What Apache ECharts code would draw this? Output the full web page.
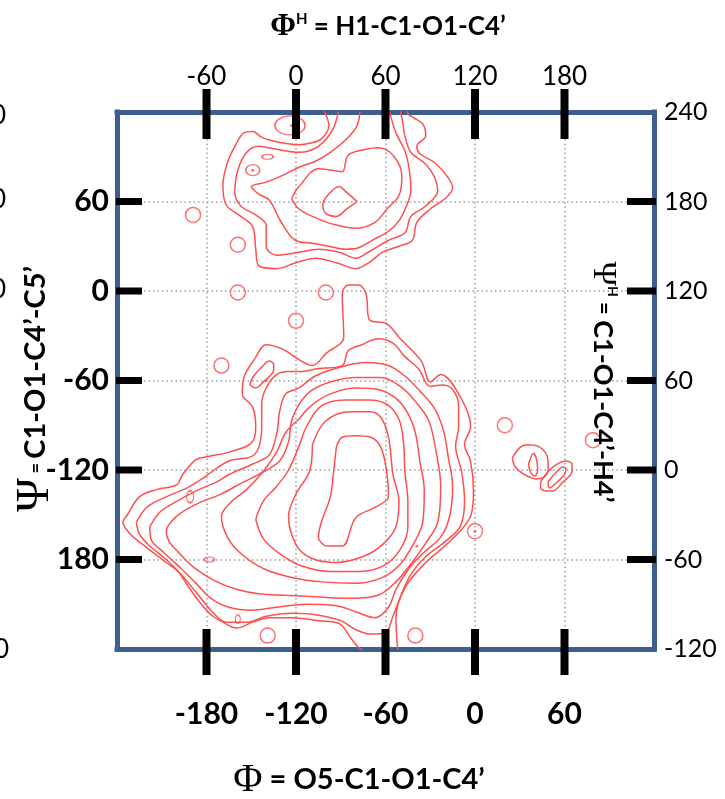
<!DOCTYPE html>
<html><head><meta charset="utf-8">
<script src="https://cdn.jsdelivr.net/npm/echarts@6/dist/echarts.min.js"></script>
<style>html,body{margin:0;padding:0;background:#fff}#c{width:725px;height:799px}</style>
</head><body><div id="c"></div>
<script>
// ---- axis ticks / labels ----
const phiTicks = [-180, -120, -60, 0, 60];
const phiLabels = ['-180', '-120', '-60', '0', '60'];
const phiHLabels = ['-60', '0', '60', '120', '180'];
const psiTicks = [60, 0, -60, -120, -180];
const psiLabels = ['60', '0', '-60', '-120', '180'];
const psiHValues = [120, 60, 0, -60, -120, -180, -240];
const psiHLabels = ['240', '180', '120', '60', '0', '-60', '-120'];

// ---- contour lines (Phi, Psi in degrees) ----
const contourU1 = [[-103,124],[-98,111],[-103,102],[-111,99],[-118,98],[-133,100],[-143,103],[-149,107],[-155,106],[-161,97],[-166,86],[-169,71],[-167,58],[-157,50],[-149,43],[-147,28],[-145,17],[-133,15],[-120,19],[-107,22],[-93,19],[-80,15],[-71,19],[-62,26],[-51,30],[-42,34],[-39,46],[-30,55],[-20,62],[-15,69],[-18,76],[-27,86],[-37,92],[-39,97],[-33,104],[-35,112],[-41,116],[-45,119],[-46,124]];
const contourU2 = [[-91,124],[-95,109],[-105,97],[-118,93],[-133,95],[-145,97],[-153,93],[-159,81],[-161,66],[-157,57],[-147,51],[-140,44],[-140,30],[-133,24],[-118,26],[-105,28],[-91,26],[-80,22],[-70,27],[-58,34],[-47,39],[-43,50],[-33,57],[-25,67],[-27,76],[-33,85],[-43,93],[-47,104],[-49,116],[-51,124]];
const contourU3 = [[-77,124],[-79,111],[-87,101],[-97,93],[-107,87],[-118,83],[-130,77],[-140,73],[-150,70],[-145,65],[-138,61],[-131,48],[-123,36],[-118,33],[-109,32],[-98,30],[-87,28],[-78,29],[-69,34],[-58,40],[-51,47],[-46,57],[-43,67],[-44,81],[-47,94],[-53,106],[-57,119],[-58,124]];
const contourU4 = [[-123,62],[-118,70],[-105,82],[-96,81],[-89,80],[-85,91],[-73,95],[-65,96],[-55,91],[-49,77],[-51,64],[-59,55],[-67,46],[-80,42],[-96,45],[-109,50],[-118,55],[-123,62]];
const contourU5 = [[-79,60],[-87,67],[-91,70],[-98,65],[-102,58],[-100,52],[-93,50],[-86,55],[-79,60]];

const contourM1 = [[-51,-249],[-53,-219],[-47,-199],[-33,-182],[-17,-168],[-3,-151],[-1,-134],[-3,-114],[-7,-103],[-3,-91],[-11,-69],[-23,-56],[-30,-61],[-36,-47],[-51,-31],[-59,-22],[-71,-19],[-73,-2],[-78,4],[-85,4],[-89,-2],[-88,-31],[-100,-42],[-109,-50],[-118,-46],[-129,-39],[-140,-36],[-148,-46],[-155,-58],[-156,-69],[-149,-78],[-147,-91],[-150,-102],[-165,-108],[-179,-111],[-187,-113],[-196,-123],[-200,-130],[-213,-133],[-225,-138],[-233,-150],[-236,-155],[-231,-163],[-220,-172],[-207,-182],[-199,-188],[-193,-197],[-185,-208],[-177,-217],[-169,-222],[-160,-226],[-149,-222],[-138,-219],[-123,-219],[-105,-221],[-91,-223],[-83,-233],[-78,-239],[-73,-242],[-69,-249]];
const contourM2 = [[-227,-155],[-220,-145],[-207,-138],[-193,-132],[-183,-126],[-179,-123],[-165,-114],[-150,-111],[-145,-105],[-143,-91],[-143,-76],[-140,-65],[-133,-56],[-125,-54],[-118,-54],[-105,-52],[-89,-50],[-85,-40],[-76,-36],[-65,-32],[-55,-35],[-47,-44],[-38,-52],[-30,-64],[-22,-63],[-15,-66],[-11,-77],[-11,-91],[-13,-104],[-9,-121],[-7,-141],[-10,-158],[-20,-168],[-33,-178],[-43,-190],[-50,-205],[-55,-218],[-60,-229],[-70,-230],[-80,-227],[-90,-221],[-107,-217],[-123,-216],[-140,-218],[-153,-222],[-167,-222],[-177,-214],[-187,-202],[-197,-190],[-207,-180],[-218,-171],[-225,-163],[-227,-155]];
const contourM3 = [[-218,-158],[-211,-148],[-200,-141],[-187,-134],[-173,-128],[-165,-123],[-149,-116],[-138,-110],[-133,-96],[-131,-81],[-127,-69],[-118,-65],[-107,-57],[-90,-51],[-73,-48],[-58,-50],[-47,-57],[-37,-67],[-27,-79],[-21,-94],[-18,-111],[-15,-131],[-17,-151],[-23,-165],[-35,-176],[-45,-187],[-53,-200],[-58,-212],[-67,-219],[-80,-215],[-93,-211],[-113,-210],[-133,-212],[-150,-214],[-165,-212],[-177,-206],[-187,-196],[-197,-186],[-209,-175],[-217,-167],[-218,-158]];
const contourM4 = [[-118,-76],[-110,-67],[-97,-61],[-80,-58],[-63,-58],[-50,-64],[-40,-74],[-31,-87],[-26,-108],[-23,-131],[-25,-155],[-33,-169],[-43,-183],[-53,-195],[-65,-204],[-83,-206],[-107,-205],[-127,-204],[-145,-203],[-160,-200],[-175,-194],[-189,-185],[-198,-176],[-205,-168],[-207,-161],[-200,-151],[-187,-143],[-170,-136],[-157,-129],[-145,-123],[-131,-114],[-125,-101],[-123,-87],[-118,-76]];
const contourM5 = [[-118,-86],[-110,-77],[-97,-69],[-80,-65],[-65,-66],[-53,-72],[-45,-82],[-40,-95],[-37,-114],[-34,-134],[-35,-155],[-41,-169],[-50,-183],[-62,-192],[-80,-196],[-103,-195],[-123,-192],[-142,-186],[-157,-176],[-166,-165],[-170,-151],[-163,-141],[-153,-133],[-142,-121],[-133,-108],[-127,-95],[-118,-86]];
const contourM6 = [[-147,-153],[-142,-141],[-133,-131],[-125,-120],[-118,-104],[-113,-91],[-103,-77],[-87,-73],[-71,-73],[-59,-76],[-51,-86],[-48,-101],[-47,-121],[-45,-141],[-45,-158],[-50,-173],[-61,-184],[-77,-188],[-97,-188],[-117,-184],[-131,-176],[-142,-166],[-147,-153]];
const contourM7 = [[-109,-103],[-100,-87],[-83,-81],[-70,-81],[-63,-85],[-58,-98],[-55,-123],[-51,-141],[-53,-158],[-62,-170],[-75,-178],[-93,-182],[-110,-179],[-120,-170],[-125,-151],[-120,-136],[-111,-121],[-109,-103]];
const contourM8 = [[-93,-105],[-89,-98],[-80,-97],[-70,-98],[-63,-105],[-59,-123],[-58,-138],[-67,-145],[-80,-152],[-89,-171],[-99,-171],[-105,-165],[-103,-155],[-97,-138],[-95,-123],[-93,-105]];
const contourS1 = [[-151,-63],[-149,-58],[-142,-50],[-138,-47],[-135,-49],[-135,-53],[-142,-61],[-147,-65],[-151,-63]];
const contourA1 = [[25,-112],[30,-105],[35,-103],[42,-104],[47,-108],[49,-114],[49,-120],[46,-125],[41,-126],[33,-123],[27,-118],[25,-112]];
const contourA2 = [[37,-113],[39,-109],[41,-112],[42,-120],[40,-124],[37,-121],[36,-116],[37,-113]];
const contourB1 = [[44,-128],[49,-121],[55,-116],[61,-114],[65,-116],[65,-121],[59,-128],[52,-134],[47,-134],[44,-132],[44,-128]];
const contourB2 = [[49,-128],[54,-122],[59,-118],[61,-119],[60,-123],[54,-129],[50,-132],[49,-128]];

// small closed loops (centres)
const circles = [[-189,51],[-159,31],[-159,-1],[-100,-1],[-120,-20],[-170,-50],[20,-90],[79,-100],[0,-161],[-40,-231],[-139,-231]];
const dots = [[-123,111],[-149,81],[-140,-60],[0,-161],[-39,-171]];
const loopTop = [[-124,111]];
const loopA = [[-149,81]];
const loopB = [[-139,90]];
const loopC = [[-191,-138]];
const loopD = [[-178,-180]];
const loopE = [[-159,-220]];

const RED = '#ff4f4f';
const BLUE = '#3d5f8f';
const contours = [contourU1,contourU2,contourU3,contourU4,contourU5,contourM1,contourM2,contourM3,contourM4,contourM5,contourM6,contourM7,contourM8,contourS1,contourA1,contourA2,contourB1,contourB2];

function lookup(vals, labels, v){ const i = vals.indexOf(v); return i < 0 ? '' : labels[i]; }

const FONT = 'Lato';
const series = contours.map(c => ({
  type: 'line', data: c, showSymbol: false, smooth: 0.35, silent: true,
  lineStyle: { color: RED, width: 1.5 }, z: 3
}));
function loopSeries(data, size){
  return { type: 'scatter', data, symbol: 'circle', symbolSize: size, silent: true, z: 3,
    itemStyle: { color: 'rgba(0,0,0,0)', borderColor: RED, borderWidth: 1.5 } };
}
series.push(loopSeries(circles, 15));
series.push(loopSeries(loopTop, [30, 19]));
series.push(loopSeries(loopA, [14, 11]));
series.push(loopSeries(loopB, [11, 5]));
series.push(loopSeries(loopC, [7, 12]));
series.push(loopSeries(loopD, [10, 5]));
series.push(loopSeries(loopE, [5, 8]));
series.push({ type: 'scatter', data: dots, symbol: 'circle', symbolSize: 3, silent: true, z: 3,
  itemStyle: { color: RED } });

// thick tick bars
const tickData = [];
phiTicks.forEach(v => { tickData.push([v, 0, 0]); tickData.push([v, 0, 1]); });
psiTicks.forEach(v => { tickData.push([0, v, 2]); tickData.push([0, v, 3]); });
series.push({
  type: 'custom', coordinateSystem: 'cartesian2d', clip: false, silent: true, z: 10,
  data: tickData, encode: { x: 0, y: 1 },
  renderItem(params, api){
    const side = api.value(2);
    let s;
    if (side === 0){ const p = api.coord([api.value(0), 120]); s = {x: p[0]-4, y: p[1]-23, width: 8, height: 50}; }
    else if (side === 1){ const p = api.coord([api.value(0), -240]); s = {x: p[0]-4, y: p[1]-20, width: 8, height: 46}; }
    else if (side === 2){ const p = api.coord([-240, api.value(1)]); s = {x: p[0]-1, y: p[1]-3.5, width: 26, height: 7}; }
    else { const p = api.coord([120, api.value(1)]); s = {x: p[0]-27, y: p[1]-3.5, width: 29, height: 7}; }
    return { type: 'rect', shape: s, style: { fill: '#000' } };
  }
});

const chart = echarts.init(document.getElementById('c'), null, { renderer: 'canvas' });
const border = { show: true, onZero: false, lineStyle: { color: BLUE, width: 5, cap: 'square' } };
const split = { show: true, lineStyle: { color: '#9d9d9d', width: 1.5, type: [1.5, 3] } };
chart.setOption({
  animation: false,
  backgroundColor: '#fff',
  grid: { left: 117, top: 112, width: 537, height: 537, show: false },
  xAxis: [
    { type: 'value', position: 'bottom', min: -240, max: 120, interval: 60,
      axisLine: border, axisTick: { show: false }, splitLine: split,
      axisLabel: { margin: 50, fontSize: 30, fontWeight: 'bold', color: '#000', fontFamily: FONT,
        formatter: v => lookup(phiTicks, phiLabels, v) } },
    { type: 'value', position: 'top', min: -240, max: 120, interval: 60,
      axisLine: border, axisTick: { show: false }, splitLine: { show: false },
      axisLabel: { margin: 22, fontSize: 26, color: '#000', fontFamily: FONT,
        formatter: v => lookup(phiTicks, phiHLabels, v) } }
  ],
  yAxis: [
    { type: 'value', position: 'left', min: -240, max: 120, interval: 60,
      axisLine: border, axisTick: { show: false }, splitLine: split,
      axisLabel: { margin: 8, fontSize: 30, fontWeight: 'bold', color: '#000', fontFamily: FONT,
        formatter: v => lookup(psiTicks, psiLabels, v) } },
    { type: 'value', position: 'right', min: -240, max: 120, interval: 60,
      axisLine: border, axisTick: { show: false }, splitLine: { show: false },
      axisLabel: { margin: 10, fontSize: 25, color: '#000', fontFamily: FONT,
        showMinLabel: true, showMaxLabel: true,
        formatter: v => lookup(psiHValues, psiHLabels, v) } }
  ],
  graphic: [
    { type: 'text', x: 388, y: 27, z: 20, style: { text: '{p|Φ}{s|H}{t| = H1-C1-O1-C4’}', align: 'center', verticalAlign: 'middle',
      rich: { p: { fontFamily: 'Liberation Serif', fontSize: 31, fontWeight: 'bold', fill: '#000' },
              s: { fontFamily: FONT, fontSize: 15, fontWeight: 'bold', verticalAlign: 'top', fill: '#000' },
              t: { fontFamily: FONT, fontSize: 26, fontWeight: 'bold', fill: '#000' } } } },
    { type: 'text', x: 359, y: 780, z: 20, style: { text: '{p|Φ}{t| = O5-C1-O1-C4’}', align: 'center', verticalAlign: 'middle',
      rich: { p: { fontFamily: 'Liberation Serif', fontSize: 40, fill: '#000' },
              t: { fontFamily: FONT, fontSize: 29, fontWeight: 'bold', fill: '#000' } } } },
    { type: 'text', x: 36, y: 389, rotation: Math.PI / 2, z: 20, style: { text: '{p|Ψ}{e| = }{t|C1-O1-C4’-C5’}', align: 'center', verticalAlign: 'middle',
      rich: { p: { fontFamily: 'Liberation Serif', fontSize: 46, fill: '#000' },
              e: { fontFamily: FONT, fontSize: 18, fontWeight: 'bold', fill: '#000' },
              t: { fontFamily: FONT, fontSize: 29, fontWeight: 'bold', fill: '#000' } } } },
    { type: 'text', x: 603, y: 382, rotation: -Math.PI / 2, z: 20, style: { text: '{p|Ψ}{s|H}{e| = }{t|C1-O1-C4’-H4’}', align: 'center', verticalAlign: 'middle',
      rich: { p: { fontFamily: 'Liberation Serif', fontSize: 33, fill: '#000' },
              s: { fontFamily: FONT, fontSize: 14, fontWeight: 'bold', verticalAlign: 'top', fill: '#000' },
              e: { fontFamily: FONT, fontSize: 22, fontWeight: 'bold', fill: '#000' },
              t: { fontFamily: FONT, fontSize: 27, fontWeight: 'bold', fill: '#000' } } } },
    { type: 'text', x: -9, y: 116, style: { text: '0', fontFamily: FONT, fontSize: 26, fill: '#000', verticalAlign: 'middle' } },
    { type: 'text', x: -9, y: 200, style: { text: '0', fontFamily: FONT, fontSize: 26, fill: '#000', verticalAlign: 'middle' } },
    { type: 'text', x: -9, y: 290, style: { text: '0', fontFamily: FONT, fontSize: 26, fill: '#000', verticalAlign: 'middle' } },
    { type: 'text', x: -6, y: 650, style: { text: '0', fontFamily: FONT, fontSize: 26, fill: '#000', verticalAlign: 'middle' } }
  ],
  series
});
</script>
</body></html>
